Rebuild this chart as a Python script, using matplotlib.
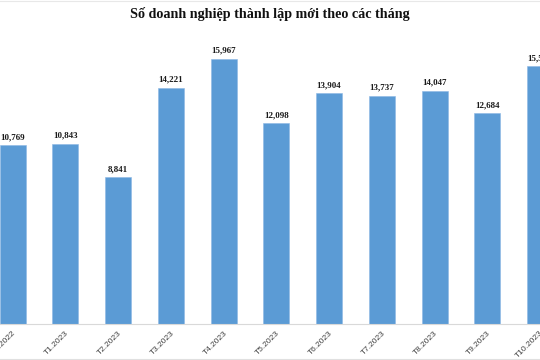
import matplotlib
matplotlib.use("Agg")
import matplotlib.pyplot as plt
from matplotlib.lines import Line2D

categories = ["T12.2022", "T1.2023", "T2.2023", "T3.2023", "T4.2023", "T5.2023",
              "T6.2023", "T7.2023", "T8.2023", "T9.2023", "T10.2023"]
values = [10769, 10843, 8841, 14221, 15967, 12098, 13904, 13737, 14047, 12684, 15522]
title = "Số doanh nghiệp thành lập mới theo các tháng"

fig = plt.figure(figsize=(5.4, 3.6), dpi=100)
ax = fig.add_axes([0, 36/360, 1, (324-40)/360])
x = list(range(len(categories)))
bars = ax.bar(x, values, width=0.494, color="#5B9BD5", edgecolor="#8DB8E4", linewidth=0.4, zorder=2)
ax.set_xlim(-0.2406, 9.9094)
ax.set_ylim(0, 17112)
for s in ["left", "right", "top"]:
    ax.spines[s].set_visible(False)
ax.spines["bottom"].set_color("#D9D9D9")
ax.spines["bottom"].set_linewidth(0.8)
ax.set_yticks([])
ax.set_xticks(x)
ax.set_xticklabels(categories, rotation=45, ha="right", rotation_mode="anchor",
                   fontsize=6, color="#404040", family="Liberation Sans")
ax.tick_params(axis="x", length=0, pad=4)
for xi, v in zip(x, values):
    ax.annotate(f"{v:,}", (xi, v), xytext=(0, 3), textcoords="offset points",
                ha="center", va="bottom", fontsize=6.5, fontweight="bold",
                family="Liberation Serif", color="#1a1a1a", clip_on=False)
fig.text(0.5, 1 - 14/360, title, ha="center", va="center", fontsize=10.2,
         fontweight="bold", family="Liberation Serif", color="#111111")
fig.add_artist(Line2D([0, 1], [1.5/360, 1.5/360], color="#E0E0E0", lw=0.8, transform=fig.transFigure))
fig.add_artist(Line2D([0, 1], [1 - 0.5/360, 1 - 0.5/360], color="#E8E8E8", lw=0.8, transform=fig.transFigure))
fig.savefig("out.png", dpi=100)
